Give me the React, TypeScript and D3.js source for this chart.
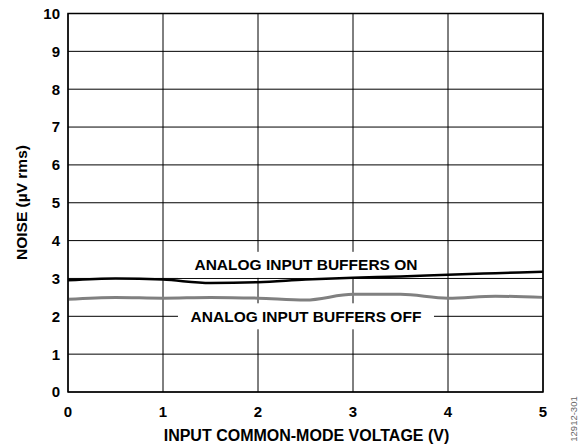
import React from "react";
import * as d3 from "d3";

const voltages = [0, 0.5, 1, 1.5, 2, 2.5, 3, 3.5, 4, 4.5, 5];
const buffersOn = [2.95, 3.0, 2.97, 2.88, 2.9, 2.97, 3.02, 3.05, 3.1, 3.14, 3.18];
const buffersOff = [2.45, 2.5, 2.48, 2.5, 2.48, 2.43, 2.58, 2.58, 2.48, 2.53, 2.5];
const xTicks = [0, 1, 2, 3, 4, 5];
const yTicks = [0, 1, 2, 3, 4, 5, 6, 7, 8, 9, 10];

const W = 579, H = 447;
const L = 68, R = 543, T = 13.5, B = 392;

export default function App() {
  const x = d3.scaleLinear().domain([0, 5]).range([L, R]);
  const y = d3.scaleLinear().domain([0, 10]).range([B, T]);
  const line = d3.line<number>().x((_, i) => x(voltages[i])).y((d) => y(d)).curve(d3.curveMonotoneX);
  const font = "'Liberation Sans', Arial, sans-serif";
  const labels = [
    { text: "ANALOG INPUT BUFFERS ON", v: 3.36, x0: 2.505 },
    { text: "ANALOG INPUT BUFFERS OFF", v: 2, x0: 2.505 },
  ];
  return (
    <svg width={W} height={H} style={{ position: "absolute", left: 0, top: 0 }} fontFamily={font}>
      <rect width={W} height={H} fill="#fff" />
      {yTicks.map((t) => (
        <line key={"gy" + t} x1={L} x2={R} y1={y(t)} y2={y(t)} stroke="#000" strokeWidth={1} />
      ))}
      {xTicks.map((t) => (
        <line key={"gx" + t} x1={x(t)} x2={x(t)} y1={T} y2={B} stroke="#000" strokeWidth={1} />
      ))}
      {labels.map((l, i) => (
        <rect key={"bg" + i} x={x(l.x0) - 128} y={y(l.v) - 13} width={256} height={26} fill="#fff" />
      ))}
      {labels.map((l, i) => (
        <text key={"lt" + i} x={x(l.x0)} y={y(l.v)} dy="0.36em" textAnchor="middle" fontSize={15.5} fontWeight="bold">
          {l.text}
        </text>
      ))}
      <path d={line(buffersOff) || ""} fill="none" stroke="#808080" strokeWidth={3} />
      <path d={line(buffersOn) || ""} fill="none" stroke="#000" strokeWidth={2.5} />
      <rect x={L} y={T} width={R - L} height={B - T} fill="none" stroke="#000" strokeWidth={1.5} />
      {yTicks.map((t) => (
        <text key={"ty" + t} x={60} y={y(t)} dy="0.36em" textAnchor="end" fontSize={15} fontWeight="bold">
          {t}
        </text>
      ))}
      {xTicks.map((t) => (
        <text key={"tx" + t} x={x(t)} y={417} textAnchor="middle" fontSize={15} fontWeight="bold">
          {t}
        </text>
      ))}
      <text x={306.5} y={441} textAnchor="middle" fontSize={16} fontWeight="bold">
        INPUT COMMON-MODE VOLTAGE (V)
      </text>
      <text transform={`translate(27,202.5) rotate(-90)`} textAnchor="middle" fontSize={15.5} fontWeight="bold">
        NOISE (µV rms)
      </text>
      <text transform={`translate(577,419) rotate(-90)`} textAnchor="middle" fontSize={9.5} fill="#666">
        12912-301
      </text>
    </svg>
  );
}
